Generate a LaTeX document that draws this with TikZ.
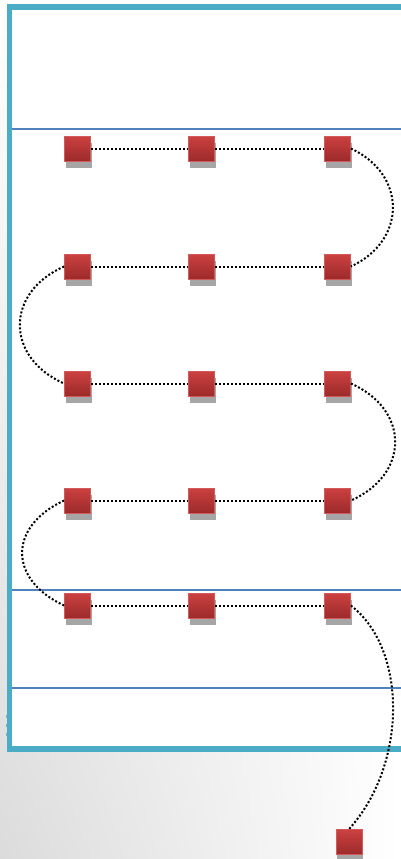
\documentclass[tikz,border=0pt]{standalone}
\usetikzlibrary{shadows,shadings}
\definecolor{teal}{HTML}{4BACC6}
\definecolor{rowblue}{HTML}{4F81BD}
\definecolor{sqtop}{HTML}{CC4141}
\definecolor{sqbot}{HTML}{9C2A2A}
\definecolor{sqedge}{HTML}{D25A5A}
\definecolor{sqshade}{HTML}{A6A6A6}
\tikzset{
  x=1pt, y=1pt,
  sq/.style={rectangle, inner sep=0pt, minimum width=26pt, minimum height=25pt,
    top color=sqtop, bottom color=sqbot, draw=sqedge, line width=0.8pt,
    general shadow={shadow xshift=1pt, shadow yshift=-7pt, fill=sqshade}},
  dotline/.style={line width=2pt, dash pattern=on 2pt off 2pt, black},
  frameline/.style={draw=teal, line width=5.5pt},
  rowline/.style={draw=rowblue, line width=1.6pt},
}
\begin{document}
\begin{tikzpicture}
\useasboundingbox (0,0) rectangle (401,-859);
\clip (0,0) rectangle (401,-859);
% background gradient
\shade[lower left=black!14, upper left=white, upper right=white, lower right=white]
  (0,0) rectangle (401,-859);
% frame
\fill[white] (9.3,-7) rectangle (410,-749);
\draw[frameline] (410,-7) -- (9.3,-7) -- (9.3,-749) -- (410,-749);
% row lines
\draw[rowline] (12,-129) -- (401,-129);
\draw[rowline] (12,-590) -- (401,-590);
\draw[rowline] (12,-688) -- (401,-688);
% tiny marks
\fill[teal!70!black!60] (5.5,-715) rectangle (7,-717.5);
\fill[teal!70!black!60] (5.5,-724) rectangle (7,-726.5);
\fill[teal!70!black!60] (5.5,-733) rectangle (7,-735.5);
% squares
\foreach \r/\y in {1/148.5,2/266.5,3/383.5,4/500.5,5/605.5}{
  \node[sq] (s\r1) at (77.5,-\y) {};
  \node[sq] (s\r2) at (201.5,-\y) {};
  \node[sq] (s\r3) at (337.5,-\y) {};
}
\node[sq] (sL) at (349,-842) {};
% straight connectors
\foreach \r in {1,...,5}{
  \draw[dotline] (s\r1.east) -- (s\r2.west);
  \draw[dotline] (s\r2.east) -- (s\r3.west);
}
% curves
\draw[dotline] (s13.east) .. controls +(56,-26) and +(56,26) .. (s23.east);
\draw[dotline] (s21.west) .. controls +(-59,-26) and +(-59,26) .. (s31.west);
\draw[dotline] (s33.east) .. controls +(59,-26) and +(59,26) .. (s43.east);
\draw[dotline] (s41.west) .. controls +(-56,-26) and +(-56,26) .. (s51.west);
\draw[dotline] (s53.east) .. controls +(57,-44) and +(58,64) .. (sL.north);
\end{tikzpicture}
\end{document}
